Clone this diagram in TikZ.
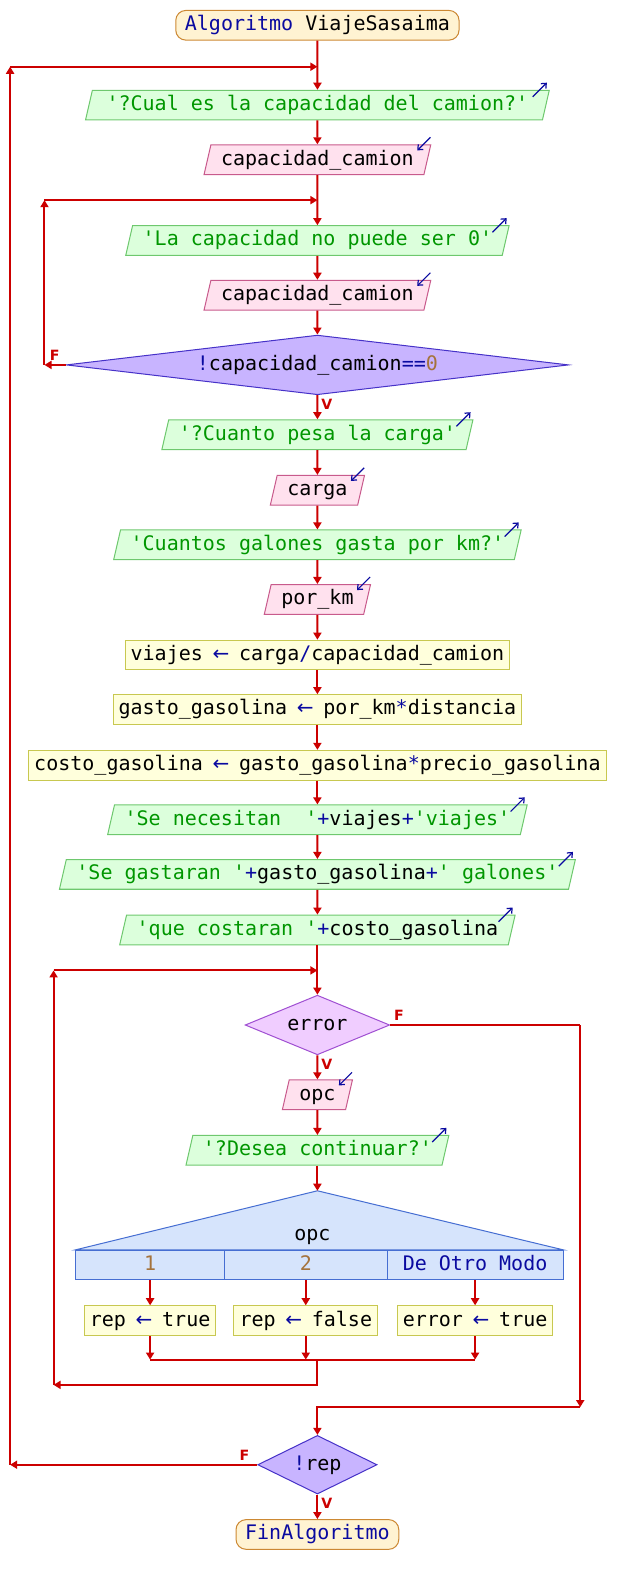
\documentclass[tikz,border=0pt]{standalone}
\usepackage{fontspec}
\usetikzlibrary{shapes.geometric,arrows.meta}
\newfontfamily\psfont{DejaVu Sans Mono}
\newfontfamily\iofont{DejaVu Sans}
\definecolor{flowred}{RGB}{204,0,0}
\definecolor{kwblue}{RGB}{10,10,160}
\definecolor{strgreen}{RGB}{0,150,0}
\definecolor{numbrown}{RGB}{165,115,60}
\definecolor{termfill}{RGB}{255,243,210}
\definecolor{termdraw}{RGB}{204,136,51}
\definecolor{outfill}{RGB}{220,255,220}
\definecolor{outdraw}{RGB}{110,200,110}
\definecolor{infill}{RGB}{255,225,238}
\definecolor{indraw}{RGB}{200,90,140}
\definecolor{asgfill}{RGB}{255,255,220}
\definecolor{asgdraw}{RGB}{200,200,80}
\definecolor{condfill}{RGB}{200,180,255}
\definecolor{conddraw}{RGB}{70,50,200}
\definecolor{errfill}{RGB}{240,205,255}
\definecolor{errdraw}{RGB}{160,80,210}
\definecolor{swfill}{RGB}{214,228,252}
\definecolor{swdraw}{RGB}{70,110,210}
\newcommand{\pkw}[1]{\textcolor{kwblue}{#1}}
\newcommand{\pstr}[1]{\textcolor{strgreen}{#1}}
\newcommand{\pnum}[1]{\textcolor{numbrown}{#1}}
\newcommand{\pop}[1]{\textcolor{kwblue}{#1}}
\newcommand{\parrow}{\pop{\makebox[0.602em]{\iofont ←}}}

\tikzset{
  base/.style={font=\psfont\fontsize{9.9}{11}\selectfont, text height=7.3pt, text depth=2pt,
    minimum height=14.7pt, inner ysep=0pt, line width=0.5pt},
  term/.style={base, rectangle, rounded corners=5pt, fill=termfill, draw=termdraw, inner xsep=4.5pt},
  outbox/.style={base, trapezium, trapezium stretches=true, trapezium left angle=70, trapezium right angle=110,
    fill=outfill, draw=outdraw, inner xsep=5pt},
  inbox/.style={base, trapezium, trapezium stretches=true, trapezium left angle=70, trapezium right angle=110,
    fill=infill, draw=indraw, inner xsep=5pt},
  asg/.style={base, rectangle, fill=asgfill, draw=asgdraw, inner xsep=2.75pt},
  cond/.style={base, diamond, inner sep=0pt, fill=condfill, draw=conddraw},
  errcond/.style={base, diamond, inner sep=0pt, fill=errfill, draw=errdraw},
  casebox/.style={base, rectangle, inner xsep=0pt, minimum height=14.5pt, fill=swfill, draw=swdraw},
  flow/.style={draw=flowred, line width=1pt, -{Triangle[length=3.5pt,width=4pt]}},
  link/.style={draw=flowred, line width=1pt},
  flabel/.style={font=\iofont\bfseries\fontsize{7}{8}\selectfont, text=flowred, inner sep=1.5pt},
  outmark/.style={draw=kwblue, line width=0.6pt, -{Straight Barb[length=2pt,width=3.5pt]}},
}

\begin{document}
\begin{tikzpicture}[x=0.5pt, y=-0.5pt]
  \useasboundingbox (0,0) rectangle (629,1568);

  \node[term] (start) at (314,25) {\pkw{Algoritmo} ViajeSasaima};
  \node[outbox, inner xsep=7pt] (out1) at (314,104) {\pstr{'?Cual es la capacidad del camion?'}};
  \node[inbox] (in1) at (314,158) {capacidad\_camion};
  \node[outbox] (out2) at (314,238) {\pstr{'La capacidad no puede ser 0'}};
  \node[inbox] (in2) at (314,292) {capacidad\_camion};
  \node[cond, shape aspect=8, minimum width=248.5pt, minimum height=29.5pt] (cond1) at (314,361)
    {\pop{!}capacidad\_camion\pop{==}\pnum{0}};
  \node[outbox] (out3) at (314,430) {\pstr{'?Cuanto pesa la carga'}};
  \node[inbox] (in3) at (314,485) {carga};
  \node[outbox] (out4) at (314,539) {\pstr{'Cuantos galones gasta por km?'}};
  \node[inbox] (in4) at (314,593) {por\_km};
  \node[asg] (asg1) at (314,648) {viajes \parrow{} carga\pop{/}capacidad\_camion};
  \node[asg] (asg2) at (314,702) {gasto\_gasolina \parrow{} por\_km\pop{*}distancia};
  \node[asg] (asg3) at (314,757) {costo\_gasolina \parrow{} gasto\_gasolina\pop{*}precio\_gasolina};
  \node[outbox] (out5) at (314,811) {\pstr{'Se necesitan\ \ '}\pop{+}viajes\pop{+}\pstr{'viajes'}};
  \node[outbox] (out6) at (314,865) {\pstr{'Se gastaran '}\pop{+}gasto\_gasolina\pop{+}\pstr{' galones'}};
  \node[outbox] (out7) at (314,920) {\pstr{'que costaran '}\pop{+}costo\_gasolina};
  \node[errcond, shape aspect=2, minimum width=71.5pt, minimum height=29.5pt] (cond2) at (314,1014) {error};
  \node[inbox] (in5) at (314,1083) {opc};
  \node[outbox] (out8) at (314,1138) {\pstr{'?Desea continuar?'}};

  \coordinate (swtop) at (314,1178);
  \node[casebox, minimum width=73.5pt] (case1) at (148.5,1251.5) {\pnum{1}};
  \node[casebox, minimum width=80.5pt] (case2) at (302.5,1251.5) {\pnum{2}};
  \node[casebox, minimum width=87pt] (case3) at (470,1251.5) {\pkw{De Otro Modo}};
  \filldraw[fill=swfill, draw=swdraw, line width=0.5pt] (swtop) -- (case3.north east) -- (case1.north west) -- cycle;
  \node[base, inner sep=0pt] (swvar) at (309,1222) {opc};

  \node[asg] (set1) at (148.5,1306.5) {rep \parrow{} true};
  \node[asg] (set2) at (302.5,1306.5) {rep \parrow{} false};
  \node[asg] (set3) at (470,1306.5) {error \parrow{} true};
  \node[cond, shape aspect=2, minimum width=59pt, minimum height=29pt] (cond3) at (314,1449) {\pop{!}rep};
  \node[term] (finish) at (314,1518) {\pkw{FinAlgoritmo}};

  \coordinate (topjoin) at (314,66);
  \coordinate (outerup) at (10,66);
  \coordinate (outerdown) at (10,1449);
  \coordinate (capjoin) at (314,198);
  \coordinate (capup) at (44,198);
  \coordinate (capdown) at (44,361);
  \coordinate (errjoin) at (314,960);
  \coordinate (errup) at (53,960);
  \coordinate (errdown) at (53,1370);
  \coordinate (casejoin) at (314,1345);
  \coordinate (casedown) at (314,1370);
  \coordinate (exitright) at (574,1014);
  \coordinate (exitdown) at (574,1392);
  \coordinate (exitleft) at (314,1392);

  \draw[outmark] ([shift={(-17,7)}]out1.top right corner) -- ++(14,-14);
  \draw[outmark] ([shift={(-17,7)}]out2.top right corner) -- ++(14,-14);
  \draw[outmark] ([shift={(-17,7)}]out3.top right corner) -- ++(14,-14);
  \draw[outmark] ([shift={(-17,7)}]out4.top right corner) -- ++(14,-14);
  \draw[outmark] ([shift={(-17,7)}]out5.top right corner) -- ++(14,-14);
  \draw[outmark] ([shift={(-17,7)}]out6.top right corner) -- ++(14,-14);
  \draw[outmark] ([shift={(-17,7)}]out7.top right corner) -- ++(14,-14);
  \draw[outmark] ([shift={(-17,7)}]out8.top right corner) -- ++(14,-14);
  \draw[outmark] ([shift={(-1,-7)}]in1.top right corner) -- ++(-13,13);
  \draw[outmark] ([shift={(-1,-7)}]in2.top right corner) -- ++(-13,13);
  \draw[outmark] ([shift={(-1,-7)}]in3.top right corner) -- ++(-13,13);
  \draw[outmark] ([shift={(-1,-7)}]in4.top right corner) -- ++(-13,13);
  \draw[outmark] ([shift={(-1,-7)}]in5.top right corner) -- ++(-13,13);

  \draw[flow] (start) -- (out1);
  \draw[flow] (out1) -- (in1);
  \draw[flow] (in1) -- (out2);
  \draw[flow] (out2) -- (in2);
  \draw[flow] (in2) -- (cond1);
  \draw[flow] (cond1.west) -- (capdown) node[flabel, pos=0, above left, xshift=-1pt] {F};
  \draw[flow] (capdown) -- (capup);
  \draw[flow] (capup) -- (capjoin);
  \draw[flow] (cond1) -- (out3) node[flabel, pos=0, below right] {V};
  \draw[flow] (out3) -- (in3);
  \draw[flow] (in3) -- (out4);
  \draw[flow] (out4) -- (in4);
  \draw[flow] (in4) -- (asg1);
  \draw[flow] (asg1) -- (asg2);
  \draw[flow] (asg2) -- (asg3);
  \draw[flow] (asg3) -- (out5);
  \draw[flow] (out5) -- (out6);
  \draw[flow] (out6) -- (out7);
  \draw[flow] (out7) -- (cond2);
  \draw[flow] (cond2) -- (in5) node[flabel, pos=0, below right] {V};
  \draw[flow] (in5) -- (out8);
  \draw[flow] (out8) -- (swtop);
  \draw[flow] (case1) -- (set1);
  \draw[flow] (case2) -- (set2);
  \draw[flow] (case3) -- (set3);
  \draw[flow] (set1) -- (set1 |- casejoin);
  \draw[flow] (set2) -- (set2 |- casejoin);
  \draw[flow] (set3) -- (set3 |- casejoin);
  \draw[link] (set1 |- casejoin) -- (set3 |- casejoin);
  \draw[flow] (casejoin) -- (casedown) -- (errdown);
  \draw[flow] (errdown) -- (errup);
  \draw[flow] (errup) -- (errjoin);
  \draw[link] (cond2.east) -- (exitright) node[flabel, pos=0, above right] {F};
  \draw[flow] (exitright) -- (exitdown);
  \draw[flow] (exitdown) -- (exitleft) -- (cond3);
  \draw[flow] (cond3.west) -- (outerdown) node[flabel, pos=0, above left, xshift=-2pt] {F};
  \draw[flow] (outerdown) -- (outerup);
  \draw[flow] (outerup) -- (topjoin);
  \draw[flow] (cond3) -- (finish) node[flabel, pos=0, below right] {V};

\end{tikzpicture}
\end{document}
